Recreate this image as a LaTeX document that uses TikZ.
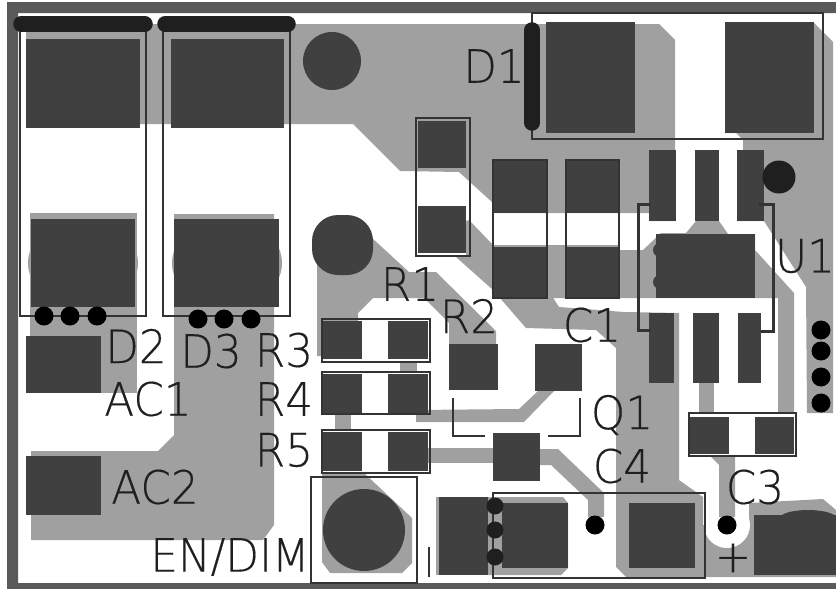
\documentclass[tikz,border=0pt]{standalone}
\usepackage{fontspec}
\newfontfamily\silkfont[FakeBold=0.3]{DejaVu Sans ExtraLight}
\definecolor{copper}{HTML}{A0A0A0}
\definecolor{padgray}{HTML}{404040}
\definecolor{framegray}{HTML}{5A5A5A}
\definecolor{bargray}{HTML}{1F1F1F}
\definecolor{inkgray}{HTML}{333333}
\tikzset{
  copper/.style={fill=copper},
  pad/.style={fill=padgray},
  via/.style={fill=black},
  outline/.style={draw=inkgray, line width=1.6pt},
  cathode/.style={draw=bargray, line width=15.5pt, line cap=round},
  silk/.style={inner sep=0pt, text=bargray, font=\silkfont\fontsize{46}{46}\selectfont, xscale=0.95, transform shape},
}
\begin{document}
\begin{tikzpicture}[x=1pt, y=-1pt]
\useasboundingbox (0,0) rectangle (836,589);
% board edge
\fill[framegray, even odd rule] (7,2) rectangle (836,589) (18,13) rectangle (836,583);
% copper
\fill[copper] (26,24) -- (659,24) -- (675,40) -- (675,221) -- (650,221) -- (650,213) -- (493,213) -- (493,203) -- (459,172) -- (400,171) -- (353,124) -- (26,124) -- cycle;
\fill[copper] (814,23) -- (833,42) -- (833,413) -- (807,413) -- (806,287) -- (764,221) -- (737,221) -- (737,150) -- (743,150) -- (743,140) -- (736,133) -- (725,133) -- (725,23) -- cycle;
\fill[copper] (619,250) -- (643,250) -- (661,233) -- (686,233) -- (696,221) -- (719,221) -- (728,234) -- (755,234) -- (755,250) -- (794,293) -- (794,413) -- (778,413) -- (778,298) -- (619,298) -- cycle;
\fill[copper] (466,221) -- (469,220) -- (493,245) -- (619,245) -- (619,298) -- (548,298) -- (548,290) -- (559,307) -- (624,312) -- (679,313) -- (679,480) -- (703,497) -- (703,577) -- (626,577) -- (616,567) -- (616,348) -- (596,330) -- (526,328) -- (493,290) -- (456,257) -- (466,257) -- cycle;
\fill[copper] (749,525) -- (749,503) -- (823,499) -- (836,510) -- (836,577) -- (703,577) -- (703,525) -- cycle;
\fill[white] (727,525) circle (23);
\fill[copper] (719,517) -- (719,465) -- (711,457) -- (735,457) -- (735,517) -- cycle;
\fill[copper] (30,213) rectangle (137,393);
\fill[copper] (174,214) -- (274,214) -- (274,525) -- (263,540) -- (31,540) -- (31,451) -- (158,451) -- (174,435) -- cycle;
\fill[copper] (83,263) ellipse (55 and 45);
\fill[copper] (227,263) ellipse (55 and 45);
\fill[copper] (317,240) -- (372,238) -- (409,272) -- (436,272) -- (496,331) -- (496,345) -- (449,345) -- (449,323) -- (424,298) -- (373,298) -- (358,313) -- (358,356) -- (317,356) -- cycle;
\fill[copper] (400,362) rectangle (417,372);
\fill[copper] (335,414) rectangle (351,430);
\fill[copper] (322,473) -- (363,472) -- (412,518) -- (412,563) -- (402,573) -- (330,573) -- (322,562) -- cycle;
\fill[copper] (416,410) -- (519,409) -- (538,391) -- (554,391) -- (524,422) -- (416,422) -- cycle;
\fill[copper] (428,448) rectangle (493,463);
\fill[copper] (540,449) -- (558,449) -- (604,493) -- (604,517) -- (588,517) -- (588,500) -- (551,465) -- (540,465) -- cycle;
\fill[copper] (699,383) rectangle (714,413);
\fill[copper] (488,497) -- (563,497) -- (568,503) -- (568,568) -- (561,575) -- (488,575) -- cycle;
\fill[copper] (436,497) rectangle (491,575);
% pads
\fill[pad] (26,39) rectangle (140,128);
\fill[pad] (171,39) rectangle (284,128);
\fill[pad] (31,219) rectangle (135,307);
\fill[pad] (174,219) rectangle (279,307);
\fill[pad] (26,336) rectangle (101,393);
\fill[pad] (26,456) rectangle (101,515);
\fill[pad] (332,61) circle (29);
\fill[pad, rounded corners=26pt] (312,215) rectangle (373,275);
\fill[pad] (546,22) rectangle (635,133);
\fill[pad] (725,22) rectangle (814,133);
\fill[pad] (418,121) rectangle (466,168);
\fill[pad] (418,206) rectangle (466,253);
\fill[pad] (493,161) rectangle (547,213);
\fill[pad] (493,247) rectangle (547,298);
\fill[pad] (566,161) rectangle (619,213);
\fill[pad] (566,247) rectangle (619,298);
\fill[pad] (649,150) rectangle (676,221);
\fill[pad] (695,150) rectangle (719,221);
\fill[pad] (737,150) rectangle (764,221);
\fill[pad] (660,250) circle (7);
\fill[pad] (660,282) circle (7);
\fill[pad] (656,234) rectangle (755,298);
\fill[pad] (649,313) rectangle (674,383);
\fill[pad] (693,313) rectangle (719,383);
\fill[pad] (738,313) rectangle (761,383);
\fill[pad] (322,321) rectangle (362,359);
\fill[pad] (388,321) rectangle (428,359);
\fill[pad] (322,374) rectangle (362,413);
\fill[pad] (388,374) rectangle (428,413);
\fill[pad] (322,432) rectangle (362,471);
\fill[pad] (388,432) rectangle (428,471);
\fill[pad] (449,344) rectangle (498,390);
\fill[pad] (535,344) rectangle (582,391);
\fill[pad] (493,433) rectangle (540,481);
\fill[pad] (690,417) rectangle (729,454);
\fill[pad] (755,417) rectangle (794,454);
\fill[pad] (364,530) circle (41);
\fill[pad] (439,497) rectangle (488,575);
\fill[pad] (502,503) rectangle (568,568);
\fill[pad] (629,503) rectangle (695,568);
\fill[pad] (754,515) rectangle (836,575);
\fill[pad] (808,518) ellipse (28 and 8);
% outlines
\draw[outline] (20,30) rectangle (146,316);
\draw[outline] (163,30) rectangle (290,316);
\draw[outline] (532,13) rectangle (823,139);
\draw[outline] (416,118) rectangle (470,256);
\draw[outline] (493,160) rectangle (547,298);
\draw[outline] (566,160) rectangle (619,298);
\draw[outline] (322,319) rectangle (430,362);
\draw[outline] (322,372) rectangle (430,414);
\draw[outline] (322,430) rectangle (430,473);
\draw[outline] (689,413) rectangle (796,456);
\draw[outline] (311,477) rectangle (417,583);
\draw[outline] (493,493) rectangle (705,578);
\draw[outline] (453,398) -- (453,436) -- (485,436);
\draw[outline] (580,398) -- (580,436) -- (548,436);
\draw[outline, line width=3pt] (651,204) -- (638,204) -- (638,330) -- (651,330);
\draw[outline, line width=3pt] (759,204) -- (773,204) -- (773,331) -- (761,331);
\draw[outline] (429,547) -- (429,577);
% cathode marks
\draw[cathode] (21,24) -- (145,24);
\draw[cathode] (165,24) -- (288,24);
\draw[cathode] (532,30) -- (532,123);
% vias
\fill[bargray] (779,177) circle (16.5);
\foreach \px/\py in {44/316, 70/316, 97/316, 198/319, 224/319, 251/319, 821/330, 821/351, 821/377, 821/403, 595/525, 727/525}
  \fill[via] (\px,\py) circle (9.5);
\foreach \py in {506, 530, 557}
  \fill[bargray] (495,\py) circle (8.5);
% labels
\node[silk] (D1) at (494,66) {D1};
\node[silk] (R1) at (410,284) {R1};
\node[silk] (R2) at (469,316) {R2};
\node[silk] (C1) at (592,325) {C1};
\node[silk] (U1) at (805,256) {U1};
\node[silk] (D2) at (136,346) {D2};
\node[silk] (D3) at (211,351) {D3};
\node[silk] (R3) at (284,350) {R3};
\node[silk] (AC1) at (148,399) {AC1};
\node[silk] (R4) at (284,399) {R4};
\node[silk] (R5) at (284,450) {R5};
\node[silk] (AC2) at (155,487) {AC2};
\node[silk] (ENDIM) at (230,557) {EN/DIM};
\node[silk] (Q1) at (622,415) {Q1};
\node[silk] (C4) at (622,466) {C4};
\node[silk] (C3) at (755,487) {C3};
\node[silk] (plus) at (733,558) {+};
\end{tikzpicture}
\end{document}
